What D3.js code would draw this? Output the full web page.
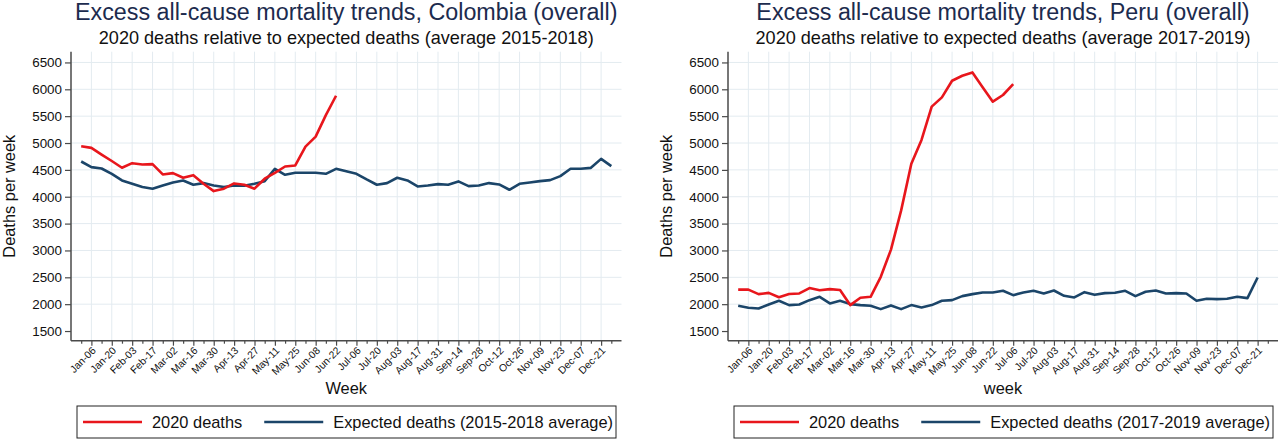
<!DOCTYPE html>
<html>
<head>
<meta charset="utf-8">
<script src="https://cdn.jsdelivr.net/npm/d3@7"></script>
<style>
  html, body { margin: 0; padding: 0; background: #fff; }
  svg { display: block; font-family: "Liberation Sans", Arial, Helvetica, sans-serif; }
</style>
</head>
<body>
<svg id="chart" width="1280" height="440"></svg>
<script>
// ---- Data ----
const weekLabels = ["Jan-06","Jan-20","Feb-03","Feb-17","Mar-02","Mar-16","Mar-30","Apr-13","Apr-27",
  "May-11","May-25","Jun-08","Jun-22","Jul-06","Jul-20","Aug-03","Aug-17","Aug-31","Sep-14","Sep-28",
  "Oct-12","Oct-26","Nov-09","Nov-23","Dec-07","Dec-21"];
const yTicks = [1500,2000,2500,3000,3500,4000,4500,5000,5500,6000,6500];

// Colombia
const colombia2020 = [4940,4910,4785,4665,4540,4625,4600,4607,4415,4440,4353,4402,4241,4105,4150,
  4248,4223,4150,4335,4446,4563,4582,4934,5120,5520,5880];
const colombiaExpected = [4656,4551,4526,4427,4303,4241,4180,4149,4210,4266,4303,4223,4254,4210,4180,
  4210,4204,4241,4290,4520,4409,4446,4446,4446,4427,4520,4476,4427,4322,4223,4254,4353,4303,4192,4210,
  4235,4223,4285,4198,4210,4254,4229,4130,4241,4266,4290,4309,4384,4520,4520,4538,4705,4569];

// Peru
const peru2020 = [2270,2270,2187,2210,2130,2190,2200,2300,2260,2280,2265,1983,2120,2137,2509,3016,
  3746,4613,5058,5677,5850,6160,6252,6314,6040,5770,5894,6098];
const peruExpected = [1970,1933,1920,1995,2063,1983,1995,2075,2137,2014,2063,2001,1983,1970,1908,1977,
  1908,1983,1939,1983,2063,2075,2150,2187,2218,2218,2249,2168,2218,2249,2200,2255,2156,2125,2224,2174,
  2206,2212,2249,2150,2230,2255,2200,2206,2200,2063,2100,2094,2100,2137,2113,2496];

const panels = [
  { title: "Excess all-cause mortality trends, Colombia (overall)",
    subtitle: "2020 deaths relative to expected deaths (average 2015-2018)",
    xTitle: "Week", actual: colombia2020, expected: colombiaExpected,
    legendExp: "Expected deaths (2015-2018 average)", x0: 71, x1: 621.5, ytitleX: 15 },
  { title: "Excess all-cause mortality trends, Peru (overall)",
    subtitle: "2020 deaths relative to expected deaths (average 2017-2019)",
    xTitle: "week", actual: peru2020, expected: peruExpected,
    legendExp: "Expected deaths (2017-2019 average)", x0: 728, x1: 1278, ytitleX: 672 }
];

const RED = "#e8161c", NAVY = "#1b4569", GRID = "#e3ebf0", TITLE = "#1c2b4e", AXIS = "#4a4a4a";
const svg = d3.select("#chart");
const yTop = 51.7, yBot = 340.7;
const y = d3.scaleLinear().domain([1320, 6700]).range([yBot, yTop]);

panels.forEach(p => {
  const g = svg.append("g");
  const x = d3.scaleLinear().domain([-1, 53]).range([p.x0, p.x1]);
  const majors = d3.range(weekLabels.length).map(i => 2 * i + 1);
  const minors = d3.range(0, 53, 2);
  const cx = (p.x0 + p.x1) / 2;

  // gridlines
  g.append("g").selectAll("line.h").data(yTicks.filter(v => v > 1500)).join("line")
    .attr("x1", p.x0).attr("x2", p.x1).attr("y1", d => y(d)).attr("y2", d => y(d))
    .attr("stroke", GRID).attr("stroke-width", 1);
  g.append("g").selectAll("line.v").data(majors).join("line")
    .attr("x1", d => x(d)).attr("x2", d => x(d)).attr("y1", yTop).attr("y2", yBot)
    .attr("stroke", GRID).attr("stroke-width", 1);

  // y axis
  const ya = g.append("g").attr("transform", `translate(${p.x0},0)`)
    .call(d3.axisLeft(y).tickValues(yTicks).tickSize(6).tickPadding(3).tickFormat(d3.format("d")));
  ya.select(".domain").attr("stroke", AXIS).attr("stroke-width", 1.5).attr("d", `M0,${yTop}V${yBot}`);
  ya.selectAll(".tick line").attr("stroke", AXIS).attr("stroke-width", 1.2);
  ya.selectAll(".tick text").attr("font-size", 13.4).attr("fill", "#111")
    .attr("font-family", "Liberation Sans, Arial, sans-serif");

  // x axis minor ticks
  const xm = g.append("g").attr("transform", `translate(0,${yBot})`)
    .call(d3.axisBottom(x).tickValues(minors).tickSize(3).tickFormat(""));
  xm.select(".domain").remove();
  xm.selectAll(".tick line").attr("stroke", AXIS).attr("stroke-width", 1.2);
  // x axis major ticks with labels
  const xa = g.append("g").attr("transform", `translate(0,${yBot})`)
    .call(d3.axisBottom(x).tickValues(majors).tickSize(5).tickFormat(d => weekLabels[(d - 1) / 2]));
  xa.select(".domain").attr("stroke", AXIS).attr("stroke-width", 1.5).attr("d", `M${p.x0},0H${p.x1}`);
  xa.selectAll(".tick line").attr("stroke", AXIS).attr("stroke-width", 1.2);
  xa.selectAll(".tick text")
    .attr("font-size", 10.3).attr("fill", "#111").attr("font-family", "Liberation Sans, Arial, sans-serif")
    .attr("text-anchor", "end").attr("y", 0).attr("dy", "0.35em")
    .attr("transform", "translate(2,8) rotate(-45)");

  // lines
  const line = d3.line().x((d, i) => x(i)).y(d => y(d));
  g.append("path").datum(p.expected).attr("d", line).attr("fill", "none")
    .attr("stroke", NAVY).attr("stroke-width", 2.6).attr("stroke-linejoin", "round");
  g.append("path").datum(p.actual).attr("d", line).attr("fill", "none")
    .attr("stroke", RED).attr("stroke-width", 2.6).attr("stroke-linejoin", "round");

  // titles
  g.append("text").attr("x", cx).attr("y", 19.5).attr("text-anchor", "middle")
    .attr("font-size", 23.3).attr("fill", TITLE).text(p.title);
  g.append("text").attr("x", cx).attr("y", 43.5).attr("text-anchor", "middle")
    .attr("font-size", 18.1).attr("fill", "#111").text(p.subtitle);

  // axis titles
  g.append("text").attr("transform", `translate(${p.ytitleX},${(yTop + yBot) / 2}) rotate(-90)`)
    .attr("text-anchor", "middle").attr("font-size", 16.4).attr("fill", "#111").text("Deaths per week");
  g.append("text").attr("x", cx).attr("y", 394).attr("text-anchor", "middle")
    .attr("font-size", 16.4).attr("fill", "#111").text(p.xTitle);

  // legend
  const lx = p.x0 + 6, lw = 539, ly = 406, lh = 32, my = ly + lh / 2;
  const lg = g.append("g");
  lg.append("rect").attr("x", lx).attr("y", ly).attr("width", lw).attr("height", lh)
    .attr("fill", "#fff").attr("stroke", "#222").attr("stroke-width", 1);
  const items = [{ c: RED, t: "2020 deaths" }, { c: NAVY, t: p.legendExp }];
  let cur = lx + 6;
  items.forEach((it, k) => {
    lg.append("line").attr("x1", cur).attr("x2", cur + 59).attr("y1", my).attr("y2", my)
      .attr("stroke", it.c).attr("stroke-width", 2.6);
    const t = lg.append("text").attr("x", cur + 69).attr("y", my).attr("dy", "0.35em")
      .attr("font-size", 16.4).attr("fill", "#111").text(it.t);
    cur = cur + 69 + t.node().getComputedTextLength() + 22;
  });
});
</script>
</body>
</html>
